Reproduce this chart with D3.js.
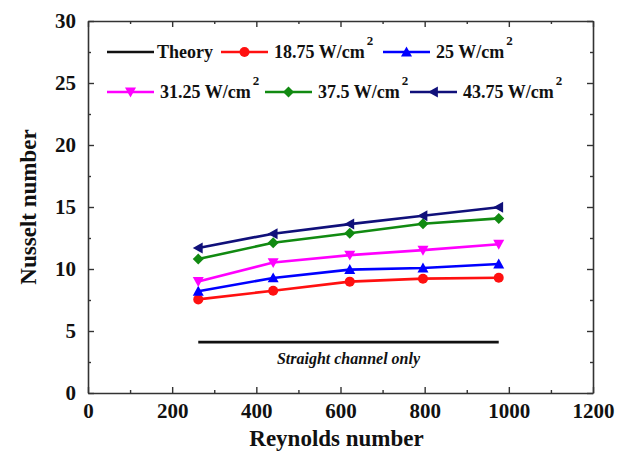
<!DOCTYPE html>
<html><head><meta charset="utf-8">
<script src="https://cdn.jsdelivr.net/npm/d3@7"></script>
<style>body{margin:0;background:#fff}svg{display:block}
text, tspan { font-family: serif; }</style>
</head><body><svg id="c" width="634" height="457"></svg>
<script>
const reynolds = [262, 440, 622, 796, 976];
const theory = [4.1, 4.1, 4.1, 4.1, 4.1];
const q18_75 = [7.55, 8.25, 8.98, 9.22, 9.3];
const q25 = [8.2, 9.28, 9.95, 10.08, 10.4];
const q31_25 = [9.0, 10.52, 11.12, 11.52, 12.0];
const q37_5 = [10.8, 12.12, 12.88, 13.65, 14.08];
const q43_75 = [11.7, 12.85, 13.62, 14.3, 14.98];
const xTicks = [0, 200, 400, 600, 800, 1000, 1200];
const yTicks = [0, 5, 10, 15, 20, 25, 30];
const seriesNames = ["18.75", "25", "31.25", "37.5", "43.75"];

const svg = d3.select("#c");
const L = 88, R = 593, T = 21, B = 393;
const x = d3.scaleLinear().domain([0, 1200]).range([L, R]);
const y = d3.scaleLinear().domain([0, 30]).range([B, T]);
const axisColor = "#333";

function styleAxis(g) {
  g.attr("font-family", null).attr("font-size", null);
  g.selectAll("path").attr("stroke", axisColor).attr("stroke-width", 1.6);
  g.selectAll("line").attr("stroke", axisColor).attr("stroke-width", 1.4);
}
const xMinor = d3.range(100, 1200, 200);
const yMinor = d3.range(2.5, 30, 5);
const gx = svg.append("g").attr("transform", `translate(0,${B})`)
  .call(d3.axisBottom(x).tickValues(xTicks).tickFormat(d3.format("d")).tickSizeInner(-6).tickSizeOuter(0).tickPadding(10));
styleAxis(gx);
gx.selectAll("text").attr("font-weight", "bold").attr("font-size", 21).attr("fill", "#111");
svg.append("g").attr("transform", `translate(0,${B})`)
  .call(d3.axisBottom(x).tickValues(xMinor).tickSizeInner(-3).tickSizeOuter(0).tickFormat(""))
  .call(styleAxis).select("path").remove();
const gxt = svg.append("g").attr("transform", `translate(0,${T})`)
  .call(d3.axisTop(x).tickValues(xTicks).tickSizeInner(-6).tickSizeOuter(0).tickFormat(""));
styleAxis(gxt);
svg.append("g").attr("transform", `translate(0,${T})`)
  .call(d3.axisTop(x).tickValues(xMinor).tickSizeInner(-3).tickSizeOuter(0).tickFormat(""))
  .call(styleAxis).select("path").remove();

const gy = svg.append("g").attr("transform", `translate(${L},0)`)
  .call(d3.axisLeft(y).tickValues(yTicks).tickSizeInner(-6).tickSizeOuter(0).tickPadding(12));
styleAxis(gy);
gy.selectAll("text").attr("font-weight", "bold").attr("font-size", 21).attr("fill", "#111");
svg.append("g").attr("transform", `translate(${L},0)`)
  .call(d3.axisLeft(y).tickValues(yMinor).tickSizeInner(-3).tickSizeOuter(0).tickFormat(""))
  .call(styleAxis).select("path").remove();
const gyr = svg.append("g").attr("transform", `translate(${R},0)`)
  .call(d3.axisRight(y).tickValues(yTicks).tickSizeInner(-6).tickSizeOuter(0).tickFormat(""));
styleAxis(gyr);
svg.append("g").attr("transform", `translate(${R},0)`)
  .call(d3.axisRight(y).tickValues(yMinor).tickSizeInner(-3).tickSizeOuter(0).tickFormat(""))
  .call(styleAxis).select("path").remove();

svg.append("text").attr("x", (L + R) / 2 - 4).attr("y", 446).attr("text-anchor", "middle")
  .attr("font-weight", "bold").attr("font-size", 23).attr("fill", "#111")
  .text("Reynolds number");
svg.append("text").attr("transform", `translate(36,${(T + B) / 2}) rotate(-90)`).attr("text-anchor", "middle")
  .attr("font-weight", "bold").attr("font-size", 23).attr("fill", "#111")
  .text("Nusselt number");

const series = [
  { vals: q18_75, color: "#ff1010", sym: "circle" },
  { vals: q25, color: "#0000ff", sym: "up" },
  { vals: q31_25, color: "#ff00ff", sym: "down" },
  { vals: q37_5, color: "#118a11", sym: "diamond" },
  { vals: q43_75, color: "#10107a", sym: "left" }
];
function marker(g, sym, cx, cy, color) {
  const s = 5.5;
  let p;
  if (sym === "circle") { g.append("circle").attr("cx", cx).attr("cy", cy).attr("r", 5).attr("fill", color); return; }
  if (sym === "up") p = [[cx, cy - s], [cx + s, cy + s * 0.8], [cx - s, cy + s * 0.8]];
  if (sym === "down") p = [[cx, cy + s], [cx + s, cy - s * 0.8], [cx - s, cy - s * 0.8]];
  if (sym === "left") p = [[cx - s, cy], [cx + s * 0.8, cy - s], [cx + s * 0.8, cy + s]];
  if (sym === "diamond") p = [[cx, cy - s], [cx + s, cy], [cx, cy + s], [cx - s, cy]];
  g.append("polygon").attr("points", p.map(d => d.join(",")).join(" ")).attr("fill", color);
}
const line = d3.line().x(d => x(d[0])).y(d => y(d[1]));

svg.append("path").datum(reynolds.map((r, i) => [r, theory[i]])).attr("d", line)
  .attr("fill", "none").attr("stroke", "#111").attr("stroke-width", 2.6);
svg.append("text").attr("x", x((reynolds[0] + reynolds[4]) / 2)).attr("y", 364).attr("text-anchor", "middle")
  .attr("font-weight", "bold").attr("font-style", "italic").attr("font-size", 16).attr("fill", "#111")
  .text("Straight channel only");

series.forEach(s => {
  const pts = reynolds.map((r, i) => [r, s.vals[i]]);
  svg.append("path").datum(pts).attr("d", line).attr("fill", "none").attr("stroke", s.color).attr("stroke-width", 2.6);
  const g = svg.append("g");
  pts.forEach(d => marker(g, s.sym, x(d[0]), y(d[1]), s.color));
});

const leg = svg.append("g");
const items = [
  { label: "Theory", color: "#111", sym: null, x: 107, y: 52, sup: false },
  { label: seriesNames[0] + " W/cm", color: series[0].color, sym: "circle", x: 221, y: 52, sup: true },
  { label: seriesNames[1] + " W/cm", color: series[1].color, sym: "up", x: 383, y: 52, sup: true },
  { label: seriesNames[2] + " W/cm", color: series[2].color, sym: "down", x: 107, y: 92, sup: true },
  { label: seriesNames[3] + " W/cm", color: series[3].color, sym: "diamond", x: 265, y: 92, sup: true },
  { label: seriesNames[4] + " W/cm", color: series[4].color, sym: "left", x: 410, y: 92, sup: true }
];
items.forEach((it, i) => {
  leg.append("line").attr("x1", it.x).attr("x2", it.x + 47).attr("y1", it.y).attr("y2", it.y)
    .attr("stroke", it.color).attr("stroke-width", 2.6);
  if (it.sym) marker(leg, it.sym, it.x + 23.5, it.y, it.color);
  const t = leg.append("text").attr("x", it.x + (it.sym ? 53 : 50)).attr("y", it.y + 6)
    .attr("font-weight", "bold").attr("font-size", 18).attr("fill", "#111")
    .text(it.label);
  if (it.sup) t.append("tspan").attr("dx", 2).attr("dy", -13).attr("font-size", 13).text("2");
});
</script></body></html>
